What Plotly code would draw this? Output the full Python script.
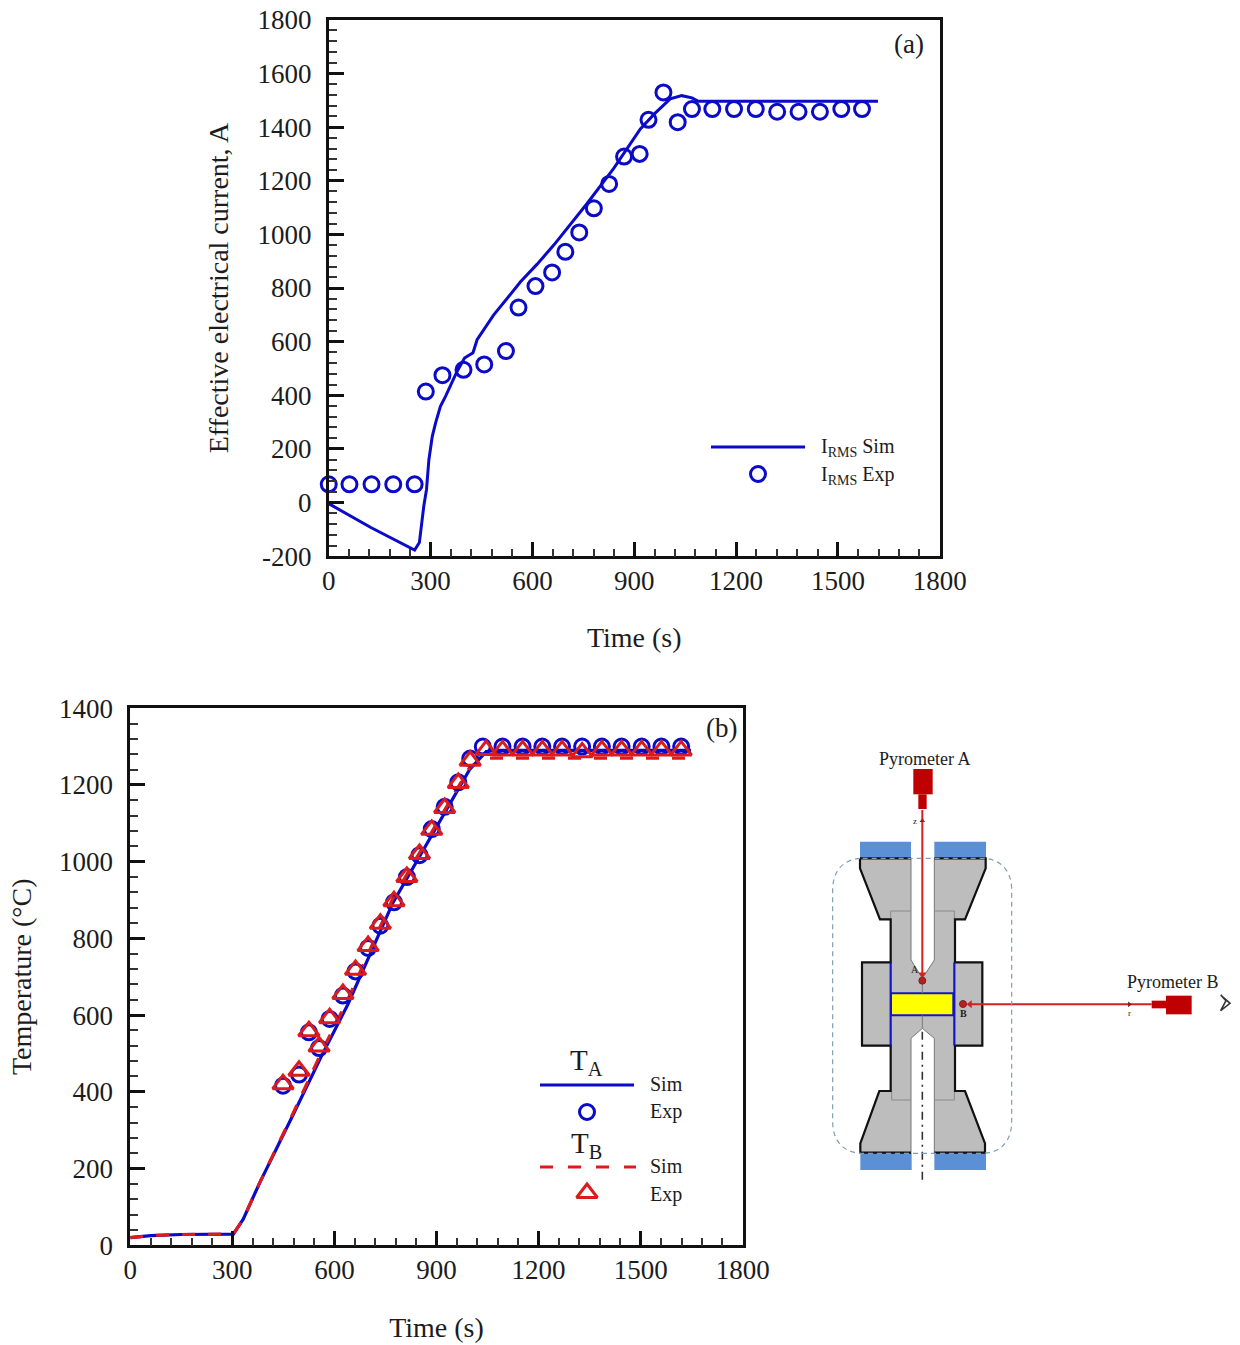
import plotly.graph_objects as go

W, H = 1240, 1345
BLUE = "#0a0ac8"
RED = "#dc1c1c"
INK = "#1c1c1c"
SERIF = "Liberation Serif"

# ---------- panel (a) data ----------
a_sim_t = [0, 124, 253, 267, 280, 288, 295, 305, 315, 329, 344, 378, 400, 425, 437, 486, 565, 614, 663, 761, 839, 918, 960, 1006, 1040, 1070, 1089, 1618]
a_sim_i = [-4, -93, -177, -149, -13, 49, 160, 247, 298, 359, 396, 489, 539, 559, 607, 700, 823, 889, 960, 1115, 1245, 1393, 1450, 1505, 1517, 1509, 1496, 1496]
a_exp_t = [0, 61, 126, 190, 253, 286, 335, 397, 458, 522, 559, 609, 658, 697, 738, 781, 826, 870, 916, 942, 986, 1028, 1070, 1130, 1194, 1258, 1321, 1384, 1447, 1510, 1571]
a_exp_i = [68, 68, 68, 68, 68, 414, 475, 495, 515, 565, 727, 807, 858, 935, 1007, 1097, 1188, 1290, 1300, 1427, 1529, 1418, 1467, 1467, 1467, 1467, 1457, 1457, 1457, 1467, 1467]
a_x_ticks = [0, 300, 600, 900, 1200, 1500, 1800]
a_y_ticks = [-200, 0, 200, 400, 600, 800, 1000, 1200, 1400, 1600, 1800]
a_y_labels = ["-200", "0", "200", "400", "600", "800", "1000", "1200", "1400", "1600", "1800"]

# ---------- panel (b) data ----------
b_simA_t = [0, 60, 150, 290, 303, 332, 381, 479, 562, 639, 772, 997, 1046, 1075, 1648]
b_simA_T = [20, 25, 28, 28, 29, 68, 164, 341, 493, 627, 893, 1240, 1287, 1290, 1290]
b_simB_t = [0, 60, 150, 290, 303, 332, 381, 479, 562, 639, 772, 997, 1040, 1062, 1648]
b_simB_T = [20, 25, 28, 28, 29, 68, 164, 345, 503, 640, 905, 1245, 1270, 1270, 1270]
b_expA_t = [449, 496, 525, 555, 586, 625, 662, 699, 735, 775, 813, 850, 886, 924, 964, 999, 1036, 1094, 1153, 1211, 1269, 1328, 1386, 1444, 1503, 1561, 1619]
b_expA_T = [416, 445, 555, 514, 590, 651, 714, 775, 833, 894, 960, 1017, 1085, 1143, 1207, 1269, 1300, 1300, 1300, 1300, 1300, 1300, 1300, 1300, 1300, 1300, 1300]
b_expB_t = [449, 496, 525, 555, 586, 625, 662, 699, 735, 775, 813, 850, 886, 924, 964, 999, 1046, 1094, 1153, 1211, 1269, 1328, 1386, 1444, 1503, 1561, 1619]
b_expB_T = [420, 455, 558, 518, 592, 655, 718, 780, 838, 897, 960, 1020, 1083, 1140, 1205, 1263, 1291, 1290, 1290, 1290, 1290, 1285, 1290, 1290, 1290, 1290, 1290]
b_x_ticks = [0, 300, 600, 900, 1200, 1500, 1800]
b_y_ticks = [0, 200, 400, 600, 800, 1000, 1200, 1400]

fig = go.Figure()


def axis_style(tickvals, ticktext, title, standoff, label_standoff, dtick_minor, rng):
    return dict(
        range=rng, tickmode="array", tickvals=tickvals, ticktext=ticktext,
        ticks="inside", ticklen=15, tickwidth=3, tickcolor="#111",
        minor=dict(ticks="inside", ticklen=8, tickwidth=1.5, tickcolor="#333", dtick=dtick_minor, showgrid=False),
        showline=True, linecolor="#111", linewidth=2.5, mirror=True, showgrid=False, zeroline=False,
        tickfont=dict(family=SERIF, size=27, color=INK),
        ticklabelstandoff=label_standoff,
        title=dict(text=title, font=dict(family=SERIF, size=28, color=INK), standoff=standoff),
        automargin=False,
    )


CIRCLE = dict(symbol="circle-open", size=15, color=BLUE, line=dict(width=3, color=BLUE))
TRI = dict(symbol="triangle-up-open", size=18, color=RED, line=dict(width=3, color=RED))

# panel (a)
fig.add_trace(go.Scatter(x=a_sim_t, y=a_sim_i, mode="lines", line=dict(color=BLUE, width=3), xaxis="x", yaxis="y", cliponaxis=False))
fig.add_trace(go.Scatter(x=a_exp_t, y=a_exp_i, mode="markers", xaxis="x", yaxis="y", cliponaxis=False, marker=CIRCLE))
# panel (b)
fig.add_trace(go.Scatter(x=b_simA_t, y=b_simA_T, mode="lines", line=dict(color=BLUE, width=3.2), xaxis="x2", yaxis="y2", cliponaxis=False))
fig.add_trace(go.Scatter(x=b_simB_t, y=b_simB_T, mode="lines", line=dict(color=RED, width=3.2, dash="13px,13px"), xaxis="x2", yaxis="y2", cliponaxis=False))
fig.add_trace(go.Scatter(x=b_expA_t, y=b_expA_T, mode="markers", xaxis="x2", yaxis="y2", cliponaxis=False, marker=CIRCLE))
fig.add_trace(go.Scatter(x=b_expB_t, y=b_expB_T, mode="markers", xaxis="x2", yaxis="y2", cliponaxis=False, marker=TRI))


# ---------- overlay in page pixels: hand-drawn legends ----------
def page(xs, ys, **kw):
    fig.add_trace(go.Scatter(x=xs, y=ys, xaxis="x3", yaxis="y3", hoverinfo="skip", cliponaxis=False, **kw))


page([711, 805], [447, 447], mode="lines", line=dict(color=BLUE, width=3))
page([758], [474], mode="markers", marker=CIRCLE)
page([540, 634], [1085, 1085], mode="lines", line=dict(color=BLUE, width=3))
page([587], [1112], mode="markers", marker=CIRCLE)
page([540, 636], [1167, 1167], mode="lines", line=dict(color=RED, width=3, dash="13px,15px"))
page([587], [1193], mode="markers", marker=TRI)


# ---------- schematic (coordinates local to the drawing, axes x4/y4) ----------
def sch(xs, ys, **kw):
    fig.add_trace(go.Scatter(x=xs, y=ys, xaxis="x4", yaxis="y4", hoverinfo="skip", cliponaxis=False, **kw))


def box(x0, y0, x1, y1, fill, line="rgba(0,0,0,0)", width=0):
    sch([x0, x1, x1, x0, x0], [y0, y0, y1, y1, y0], mode="lines", fill="toself", fillcolor=fill, line=dict(color=line, width=width))


GR = "#bdbdbd"
body_x = [180, 333, 333, 367, 403, 403, 557, 557, 495, 465, 465, 547, 547, 465, 465, 495, 555, 555, 403, 403, 367, 333, 333, 181, 181, 238, 272, 272, 186, 186, 272, 272, 240, 180, 180]
body_y = [385, 385, 690, 745, 690, 385, 385, 415, 568, 568, 697, 697, 947, 947, 1083, 1083, 1240, 1268, 1268, 925, 895, 925, 1268, 1268, 1240, 1083, 1083, 947, 947, 697, 697, 568, 568, 415, 385]
box(180, 335, 333, 385, "#5b8fd6")
box(403, 335, 558, 385, "#5b8fd6")
box(181, 1268, 335, 1320, "#5b8fd6")
box(403, 1268, 558, 1320, "#5b8fd6")
sch(body_x, body_y, mode="lines", fill="toself", fillcolor=GR, line=dict(color="#777", width=1))
# faint inner outlines
TH = dict(mode="lines", line=dict(color="#8a8a8a", width=1))
sch([272, 272, 333], [568, 543, 543], **TH)
sch([403, 463, 463], [543, 543, 568], **TH)
sch([275, 275, 333], [1083, 1110, 1110], **TH)
sch([403, 463, 463], [1110, 1110, 1083], **TH)
# dark outer edges
K = dict(mode="lines", line=dict(color="#111", width=2.2))
sch([180, 333], [385, 385], **K)
sch([403, 557, 557, 495, 465, 465, 547, 547, 465, 465, 495, 555, 555, 403], [385, 385, 415, 568, 568, 697, 697, 947, 947, 1083, 1083, 1240, 1268, 1268], **K)
sch([333, 181, 181, 238, 272, 272, 186, 186, 272, 272, 240, 180, 180], [1268, 1268, 1240, 1083, 1083, 947, 947, 697, 697, 568, 568, 415, 385], **K)
# sample
box(273, 790, 460, 856, "#ffff00", "#1414c8", 2)
sch([272, 272], [697, 947], mode="lines", line=dict(color="#1414c8", width=2.2))
sch([463, 463], [697, 947], mode="lines", line=dict(color="#1414c8", width=2.2))
sch([367, 367], [760, 790], mode="lines", line=dict(color="#777", width=1))
sch([367, 367], [856, 895], mode="lines", line=dict(color="#777", width=1))
# centre line
sch([367, 367], [905, 1362], mode="lines", line=dict(color="#333", width=1.6, dash="8px,5px,2px,5px"))
# pyrometers and beams
box(340, 117, 398, 193, "#c00000")
box(355, 193, 380, 237, "#c00000")
box(1098, 797, 1175, 853, "#c00000")
box(1055, 812, 1098, 835, "#c00000")
sch([367, 367], [240, 735], mode="lines", line=dict(color="#d42020", width=2))
sch([510, 1055], [823, 823], mode="lines", line=dict(color="#d42020", width=2))
sch([367], [733], mode="markers", marker=dict(symbol="triangle-down", size=7, color="#d42020"))
sch([367], [272], mode="markers", marker=dict(symbol="triangle-up", size=5, color="#a02020"))
sch([510], [823], mode="markers", marker=dict(symbol="triangle-left", size=7, color="#d42020"))
sch([988], [823], mode="markers", marker=dict(symbol="triangle-right", size=5, color="#802020"))
sch([367, 489], [752, 822], mode="markers", marker=dict(size=7, color="#b82020", line=dict(color="#802020", width=1)))
# eye glyph
sch([1262, 1290, 1262, 1278, 1262], [795, 820, 842, 812, 795], mode="lines", line=dict(color="#333", width=1.6))

fig.add_shape(type="path", xref="x4", yref="y4",
              path="M 188 385 L 545 385 C 600 385 635 420 635 480 L 635 1175 C 635 1235 600 1270 545 1270 "
                   "L 188 1270 C 133 1270 98 1235 98 1175 L 98 480 C 98 420 133 385 188 385 Z",
              line=dict(color="#7f9fb5", width=1.2, dash="5px,4px"), layer="above")


# ---------- text ----------
def label(x, y, text, size, anchor="center", color=INK, xref="paper", yref="paper"):
    fig.add_annotation(x=x / W, y=1 - y / H, text=text, showarrow=False, xanchor=anchor, yanchor="middle",
                       xref=xref, yref=yref, font=dict(family=SERIF, size=size, color=color))


label(909, 44, "(a)", 27)
label(721, 728, "(b)", 27)
label(819, 448, "I<sub>RMS</sub> Sim", 20, "left")
label(819, 475, "I<sub>RMS</sub> Exp", 20, "left")
label(586, 1062, "T<sub>A</sub>", 29)
label(648, 1084, "Sim", 20, "left")
label(648, 1111, "Exp", 20, "left")
label(586, 1145, "T<sub>B</sub>", 29)
label(648, 1166, "Sim", 20, "left")
label(648, 1194, "Exp", 20, "left")
label(925, 759, "Pyrometer A", 18)
label(1173, 982, "Pyrometer B", 18)
label(915, 821, "z", 9)
label(1129, 1013, "r", 9)
label(915, 969, "A", 10)
label(963, 1013, "<b>B</b>", 10)

plain = dict(visible=False, fixedrange=True)
fig.update_layout(
    width=W, height=H, margin=dict(l=0, r=0, t=0, b=0), paper_bgcolor="white", plot_bgcolor="rgba(0,0,0,0)",
    showlegend=False,
    xaxis=dict(domain=[328.75 / W, 939.75 / W], anchor="y",
               **axis_style(a_x_ticks, [str(v) for v in a_x_ticks], "Time (s)", 32, -1, 60, [0, 1800])),
    yaxis=dict(domain=[1 - 556.25 / H, 1 - 19.75 / H], anchor="x",
               **axis_style(a_y_ticks, a_y_labels, "Effective electrical current, A", 21, 9, 40, [-200, 1800])),
    xaxis2=dict(domain=[130.25 / W, 742.75 / W], anchor="y2",
                **axis_style(b_x_ticks, [str(v) for v in b_x_ticks], "Time (s)", 33, -1, 60, [0, 1800])),
    yaxis2=dict(domain=[1 - 1245.25 / H, 1 - 708.25 / H], anchor="x2",
                **axis_style(b_y_ticks, [str(v) for v in b_y_ticks], "Temperature (°C)", 20, 9, 40, [0, 1400])),
    xaxis3=dict(domain=[0, 1], range=[0, W], anchor="y3", **plain),
    yaxis3=dict(domain=[0, 1], range=[H, 0], anchor="x3", **plain),
    xaxis4=dict(domain=[800 / W, 1240 / W], range=[0, 1320], anchor="y4", **plain),
    yaxis4=dict(domain=[1 - 1200 / H, 1 - 730 / H], range=[1410, 0], anchor="x4", **plain),
)

fig.write_html("out.html", post_script="document.body.style.margin='0';", config=dict(displayModeBar=False))
